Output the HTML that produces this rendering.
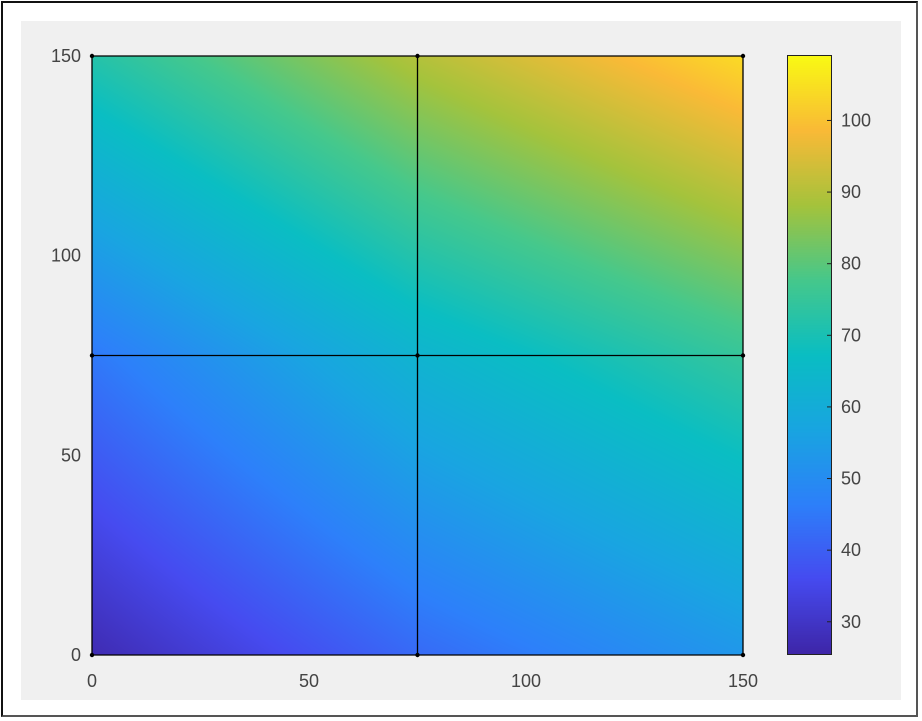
<!DOCTYPE html>
<html><head><meta charset="utf-8"><style>
body{margin:0;background:#fff;}
#wrap{position:relative;width:922px;height:721px;overflow:hidden;background:#fff;}
#frame{position:absolute;left:1px;top:1px;width:917px;height:716px;border:2px solid #111;border-right-color:#555;border-bottom-color:#555;box-sizing:border-box;}
#fig{position:absolute;left:21px;top:21px;width:880px;height:679px;background:#f0f0f0;}
canvas{position:absolute;}
svg{position:absolute;left:0;top:0;}
text{font-family:"Liberation Sans",sans-serif;font-size:18px;fill:#444;}
</style></head><body>
<div id="wrap">
<div id="frame"></div>
<div id="fig"></div>
<canvas id="field" width="651" height="599" style="left:92px;top:56px"></canvas>
<canvas id="cbar" width="44" height="598" style="left:788px;top:56px"></canvas>
<svg id="ov" width="922" height="721"></svg>
</div>
<script>
const nodeX=[0,75,150];
const nodeY=[0,75,150];
const nodeVals=[[27,42,53],[45,63,75],[72,90,104]]; // rows by y
const xTicks=[0,50,100,150];
const yTicks=[0,50,100,150];
const cTicks=[30,40,50,60,70,80,90,100];
const cMin=25.5,cMax=109;
const PX0=92,PX1=743,PY0=655,PY1=56;
const sx=v=>PX0+(v-0)/(150-0)*(PX1-PX0);
const sy=v=>PY0-(v-0)/(150-0)*(PY0-PY1);
const CB0=654,CB1=56;
const cy=v=>CB0-(v-cMin)/(cMax-cMin)*(CB0-CB1);
const stops=[[0,62,38,168],[0.125,70,75,240],[0.25,45,128,250],[0.375,25,165,225],[0.5,10,190,195],[0.625,70,200,140],[0.75,165,195,60],[0.875,250,186,55],[1,249,250,20]];
function col(v){let t=(v-cMin)/(cMax-cMin);t=Math.max(0,Math.min(1,t));
for(let i=1;i<stops.length;i++){if(t<=stops[i][0]){const a=stops[i-1],b=stops[i],f=(t-a[0])/(b[0]-a[0]);
return [a[1]+(b[1]-a[1])*f,a[2]+(b[2]-a[2])*f,a[3]+(b[3]-a[3])*f];}}return stops[stops.length-1].slice(1);}
function val(x,y){let i=x>=nodeX[1]?1:0,j=y>=nodeY[1]?1:0;
const fx=(x-nodeX[i])/(nodeX[i+1]-nodeX[i]),fy=(y-nodeY[j])/(nodeY[j+1]-nodeY[j]);
const a=nodeVals[j][i],b=nodeVals[j][i+1],c=nodeVals[j+1][i],d=nodeVals[j+1][i+1];
return a*(1-fx)*(1-fy)+b*fx*(1-fy)+c*(1-fx)*fy+d*fx*fy;}
(function(){const cv=document.getElementById('field'),ctx=cv.getContext('2d');const W=cv.width,H=cv.height;
const im=ctx.createImageData(W,H);
for(let py=0;py<H;py++)for(let px=0;px<W;px++){const x=Math.min(150,(px+0.5)/W*150),y=Math.min(150,(H-py-0.5)/H*150);
const c=col(val(x,y)),k=(py*W+px)*4;im.data[k]=c[0];im.data[k+1]=c[1];im.data[k+2]=c[2];im.data[k+3]=255;}
ctx.putImageData(im,0,0);
const cb=document.getElementById('cbar'),c2=cb.getContext('2d');
for(let py=0;py<cb.height;py++){const v=cMax-(py+0.5)/cb.height*(cMax-cMin);const c=col(v);
c2.fillStyle=`rgb(${c[0]|0},${c[1]|0},${c[2]|0})`;c2.fillRect(0,py,cb.width,1);}})();
const NS='http://www.w3.org/2000/svg',svg=document.getElementById('ov');
function mk(t,a,txt){const e=document.createElementNS(NS,t);for(const k in a)e.setAttribute(k,a[k]);if(txt!=null)e.textContent=txt;svg.appendChild(e);return e;}
nodeX.forEach(x=>{const e=mk('line',{x1:sx(x),x2:sx(x),y1:sy(0),y2:sy(150),stroke:'#000','stroke-width':1.3});

});
nodeY.forEach(y=>{const e=mk('line',{x1:sx(0),x2:sx(150),y1:sy(y),y2:sy(y),stroke:'#000','stroke-width':1.3});

});
nodeX.forEach(x=>nodeY.forEach(y=>{const e=mk('circle',{cx:sx(x),cy:sy(y),r:2.2,fill:'#000'});

}));
xTicks.forEach(v=>{const e=mk('text',{x:sx(v),y:687,'text-anchor':'middle'},v);

});
yTicks.forEach(v=>{const e=mk('text',{x:81,y:sy(v)+6,'text-anchor':'end'},v);

});
const cbBox=mk('rect',{x:787.5,y:55.5,width:44,height:599,fill:'none',stroke:'#222','stroke-width':1});


cTicks.forEach(v=>{const t=mk('line',{x1:827,x2:831,y1:cy(v),y2:cy(v),stroke:'#222','stroke-width':1});


const e=mk('text',{x:841,y:cy(v)+6},v);

});
</script>
</body></html>
